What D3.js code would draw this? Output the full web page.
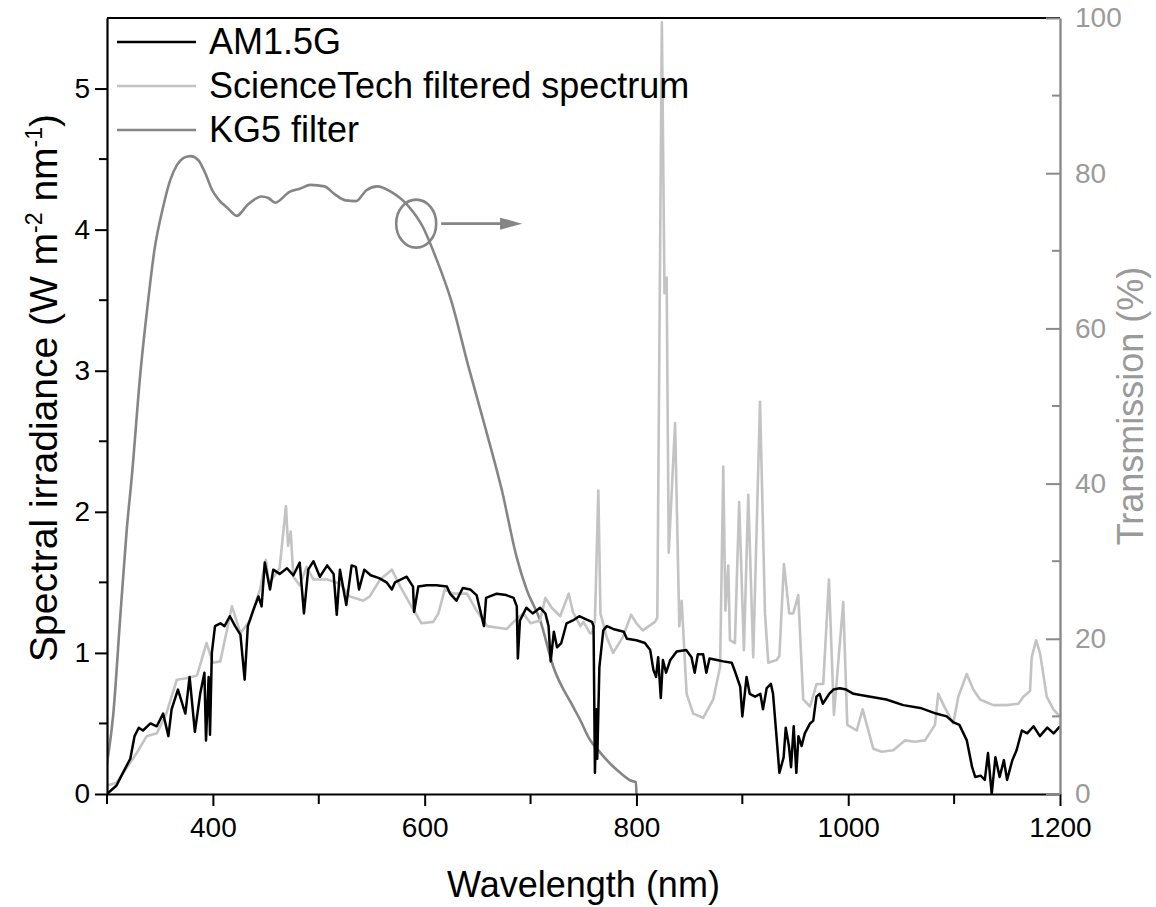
<!DOCTYPE html>
<html><head><meta charset="utf-8">
<script src="https://cdn.jsdelivr.net/npm/d3@7"></script>
<style>body{margin:0;background:#fff} svg{display:block} text{font-family:"Liberation Sans",Arial,sans-serif}</style>
</head><body><svg id="c" width="1156" height="907"></svg>
<script>
// ---- data ----
const am15Wavelength = [300,309,315,322,326,330,334,341,347,353,358,361,367,374,378,383,388,392,393.5,396,397.3,399,402,407,411,416,421,426,430,433,438,443,446,449,454,457,463,470,476,482,486,490,495,501,508,514,517,520,526,531,535,538,543,549,557,564,569,572,583,589,590,594,602,611,621,624,630,636,643,649,656,658,668,677,684,687,688,690,696,702,709,714,717,719,722,725,729,734,740,746,752,758,759.5,760.8,762,763,765,768.7,772,778,788,791,800,808,813,816,818.5,820.5,823,825,828,832,838,847,852,855,858,863,866,869,876,882,890,893,898,900,904,907,912,917,919.5,923,927,929,933,935,939,941,944,946,948.5,951,953,956,959,964,967,970,973,976,982,986,992,998,1005,1021,1036,1052,1068,1083,1093,1099,1105,1112,1117,1120,1125,1129,1132,1135.5,1139,1143,1147,1150,1155,1159,1164,1169,1175,1181,1188,1194,1200];
const am15Irradiance = [0,0.06,0.15,0.25,0.41,0.47,0.45,0.50,0.48,0.57,0.41,0.60,0.74,0.57,0.83,0.44,0.71,0.86,0.38,0.83,0.42,1.00,1.19,1.21,1.19,1.26,1.19,1.13,0.81,1.19,1.30,1.40,1.33,1.64,1.45,1.59,1.56,1.60,1.55,1.64,1.28,1.59,1.65,1.54,1.62,1.56,1.27,1.59,1.34,1.62,1.61,1.45,1.59,1.55,1.53,1.50,1.45,1.50,1.54,1.47,1.29,1.47,1.48,1.48,1.47,1.42,1.37,1.46,1.45,1.41,1.19,1.39,1.42,1.41,1.39,1.33,0.96,1.23,1.32,1.28,1.32,1.28,1.19,0.94,1.15,1.04,1.07,1.21,1.23,1.26,1.24,1.22,1.19,0.15,0.60,0.25,0.90,1.16,1.19,1.17,1.15,1.10,1.09,1.07,1.02,0.88,0.83,0.97,0.68,0.95,0.86,0.95,1.01,1.02,0.97,0.86,0.99,0.99,0.86,0.96,0.95,0.94,0.93,0.87,0.76,0.55,0.83,0.71,0.69,0.71,0.60,0.75,0.78,0.71,0.34,0.15,0.26,0.47,0.34,0.19,0.48,0.15,0.41,0.34,0.43,0.50,0.52,0.69,0.71,0.64,0.71,0.74,0.75,0.74,0.71,0.69,0.67,0.63,0.61,0.57,0.55,0.51,0.49,0.38,0.19,0.12,0.13,0.10,0.29,0.00,0.26,0.12,0.24,0.10,0.24,0.31,0.45,0.43,0.48,0.41,0.47,0.43,0.48];

const stWavelength = [300,309,319,328,337.5,347,356,366,375,385,394,400,407,418,426,435,444.5,450,453,463,469,471,473.5,476,482,488.5,495,508,520,529.5,542,548,558,569,577,586,597,608,613,619,627,640,649,659,677.5,684,693,700,709,714,720,728,736,740,747,750,756,758,760.8,764,766,772,778,787,795,800,806,817.5,819.7,824,826.5,828.5,830.5,836.5,840.5,842.7,847.4,853.6,863,872.5,879,882,884,886.7,888.3,893,897,901.5,905.6,910.3,916.7,921.4,924.5,932.4,935,939.3,944.3,948.1,952.8,957.5,963.9,970.2,976.4,981.8,986.5,995.3,999.1,1008,1013.6,1023.7,1031.6,1042.5,1053.6,1063,1072.5,1081.9,1085,1091.4,1099.2,1104,1111.9,1118.1,1124.5,1137,1149.7,1160.7,1165.4,1171.7,1173.3,1177.4,1181.1,1187.5,1193.7,1200];
const stIrradiance = [0.06,0.08,0.19,0.29,0.41,0.43,0.57,0.81,0.82,0.84,1.07,0.93,0.94,1.33,1.14,1.23,1.45,1.66,1.49,1.60,2.04,1.76,1.86,1.54,1.48,1.61,1.52,1.52,1.49,1.40,1.37,1.40,1.52,1.59,1.47,1.35,1.21,1.22,1.28,1.45,1.42,1.42,1.30,1.19,1.17,1.22,1.28,1.21,1.23,1.39,1.32,1.26,1.42,1.29,1.19,1.22,1.14,1.14,1.23,2.15,1.28,1.11,1.00,1.11,1.27,1.21,1.16,1.22,1.25,5.47,3.55,3.66,1.71,2.63,1.19,1.37,0.71,0.57,0.54,0.67,0.90,2.32,1.30,1.62,1.09,1.07,2.07,1.02,2.12,0.97,2.78,1.28,0.93,0.95,0.98,1.63,1.28,1.28,1.41,0.67,0.62,0.78,0.78,1.52,0.56,1.36,0.49,0.45,0.60,0.32,0.30,0.31,0.38,0.37,0.38,0.49,0.71,0.61,0.50,0.69,0.85,0.74,0.67,0.63,0.63,0.64,0.69,0.73,0.97,1.09,1.00,0.69,0.60,0.55];

const kg5Wavelength = [300,306,312.3,318.6,323.5,331.5,338.2,344.8,353.1,359.7,366.3,372.9,378.9,386.1,392.8,399.4,406,414,422.6,432.6,445.8,452.4,459,472.3,482,492.2,505.5,515,525.3,535.2,545,555.2,568.4,585,598.2,611.5,624.8,641.3,657.9,672.8,686.9,696.4,709,721.5,740.4,747,756,766,776,785,795,799.5,800];
const kg5Transmission = [4,10.4,22.4,34,41,54.2,62.8,70.1,75.7,79.1,81.1,82.0,82.2,81.7,80.0,77.8,76.5,75.5,74.5,75.9,77.0,76.8,76.2,77.6,78.0,78.5,78.3,77.3,76.5,76.4,77.8,78.3,77.6,75.7,73.1,68.8,63.7,55.1,46.9,39.2,30.5,26.3,22.4,16.4,11.2,9.5,7.0,5.3,3.8,2.7,1.7,1.5,0];

const xTicksMajor = [400,600,800,1000,1200];
const xTicksMinor = [300,500,700,900,1100];
const yLeftMajor = [0,1,2,3,4,5];
const yLeftMinor = [0.5,1.5,2.5,3.5,4.5];
const yRightMajor = [0,20,40,60,80,100];
const yRightMinor = [10,30,50,70,90];
const seriesNames = ["AM1.5G","ScienceTech filtered spectrum","KG5 filter"];
const annotation = {wavelength: 592, transmission: 73.5, arrowTo: 692};

// ---- layout ----
const L = 107, R = 1060, T = 18, B = 794;
const svg = d3.select("#c");
const x = d3.scaleLinear().domain([300,1200]).range([L,R]);
const yL = d3.scaleLinear().domain([0,5.5]).range([B,T]);
const yR = d3.scaleLinear().domain([0,100]).range([B,T]);
const fmt = d3.format("d");

const black = "#000", stCol = "#c3c3c3", kgCol = "#858585", rightCol = "#8a8a8a", rightText = "#9a9a9a";

svg.append("defs").append("clipPath").attr("id","pc").append("rect")
  .attr("x",L).attr("y",T-4).attr("width",R-L).attr("height",B-T+4);

const g = svg.append("g").attr("clip-path","url(#pc)");
const am = am15Wavelength.map((w,i)=>[w,am15Irradiance[i]]);
const st = stWavelength.map((w,i)=>[w,stIrradiance[i]]);
const kg = kg5Wavelength.map((w,i)=>[w,kg5Transmission[i]]);

g.append("path").datum(kg).attr("fill","none").attr("stroke",kgCol).attr("stroke-width",2.6)
  .attr("stroke-linejoin","round").attr("d",d3.line().x(d=>x(d[0])).y(d=>yR(d[1])).curve(d3.curveMonotoneX));
g.append("path").datum(st).attr("fill","none").attr("stroke",stCol).attr("stroke-width",2.6)
  .attr("stroke-linejoin","round").attr("d",d3.line().x(d=>x(d[0])).y(d=>yL(d[1])));
g.append("path").datum(am).attr("fill","none").attr("stroke",black).attr("stroke-width",2.5)
  .attr("stroke-linejoin","round").attr("d",d3.line().x(d=>x(d[0])).y(d=>yL(d[1])));

// annotation circle + arrow
const ax = x(annotation.wavelength), ay = yR(annotation.transmission);
svg.append("ellipse").attr("cx",ax).attr("cy",ay).attr("rx",20).attr("ry",24)
  .attr("fill","none").attr("stroke",kgCol).attr("stroke-width",2.6);
const ax2 = x(annotation.arrowTo);
svg.append("line").attr("x1",ax+25).attr("x2",ax2-18).attr("y1",ay).attr("y2",ay)
  .attr("stroke",kgCol).attr("stroke-width",2.6);
svg.append("path").attr("d",`M${ax2-22},${ay-6}L${ax2},${ay}L${ax2-22},${ay+6}Z`).attr("fill",kgCol);

// frame
svg.append("line").attr("x1",L).attr("x2",R).attr("y1",T).attr("y2",T).attr("stroke","#000").attr("stroke-width",2);

// bottom axis
const bx = svg.append("g").attr("transform",`translate(0,${B})`);
bx.call(d3.axisBottom(x).tickValues(xTicksMajor).tickFormat(fmt).tickSize(12).tickSizeOuter(0).tickPadding(11));
bx.call(g2=>g2.selectAll(".minor").data(xTicksMinor).enter().append("line").attr("class","minor")
  .attr("x1",d=>x(d)).attr("x2",d=>x(d)).attr("y1",0).attr("y2",10).attr("stroke","#000").attr("stroke-width",2));
bx.select(".domain").attr("stroke-width",2.2);
bx.selectAll(".tick line").attr("stroke-width",2);
bx.selectAll("text").attr("font-size",28).attr("fill","#000");

// left axis
const lx = svg.append("g").attr("transform",`translate(${L},0)`);
lx.call(d3.axisLeft(yL).tickValues(yLeftMajor).tickFormat(fmt).tickSize(12).tickSizeOuter(0).tickPadding(5));
lx.call(g2=>g2.selectAll(".minor").data(yLeftMinor).enter().append("line").attr("class","minor")
  .attr("y1",d=>yL(d)).attr("y2",d=>yL(d)).attr("x1",0).attr("x2",-8).attr("stroke","#000").attr("stroke-width",2));
lx.select(".domain").attr("stroke-width",2.2);
lx.selectAll(".tick line").attr("stroke-width",2);
lx.selectAll("text").attr("font-size",28).attr("fill","#000");

// right axis (grey, inward ticks)
const rx = svg.append("g").attr("transform",`translate(${R},0)`);
rx.call(d3.axisRight(yR).tickValues(yRightMajor).tickFormat(fmt).tickSizeInner(-14).tickSizeOuter(0).tickPadding(15));
rx.call(g2=>g2.selectAll(".minor").data(yRightMinor).enter().append("line").attr("class","minor")
  .attr("y1",d=>yR(d)).attr("y2",d=>yR(d)).attr("x1",0).attr("x2",-8).attr("stroke",rightCol).attr("stroke-width",2));
rx.select(".domain").attr("stroke",rightCol).attr("stroke-width",2.4);
rx.selectAll(".tick line").attr("stroke",rightCol).attr("stroke-width",2);
rx.selectAll("text").attr("font-size",28).attr("fill",rightText);

// axis titles
svg.append("text").attr("x",(L+R)/2).attr("y",897).attr("text-anchor","middle").attr("font-size",36).text("Wavelength (nm)");
const yt = svg.append("text").attr("transform",`translate(57,${(T+B)/2-18}) rotate(-90)`).attr("text-anchor","middle").attr("font-size",39);
yt.append("tspan").text("Spectral irradiance (W m");
yt.append("tspan").attr("font-size",23).attr("dy",-15).text("-2");
yt.append("tspan").attr("dy",15).text(" nm");
yt.append("tspan").attr("font-size",23).attr("dy",-15).text("-1");
yt.append("tspan").attr("dy",15).text(")");
svg.append("text").attr("transform",`translate(1143,${(T+B)/2}) rotate(-90)`).attr("text-anchor","middle")
  .attr("font-size",36).attr("fill",rightText).text("Transmission (%)");

// legend
const legCols = [black, stCol, kgCol];
const lg = svg.append("g");
seriesNames.forEach((n,i)=>{
  const yy = 42 + i*44;
  lg.append("line").attr("x1",117).attr("x2",196).attr("y1",yy).attr("y2",yy).attr("stroke",legCols[i]).attr("stroke-width",2.6);
  lg.append("text").attr("x",209).attr("y",yy+12).attr("font-size",36).attr("fill","#000").text(n);
});
</script></body></html>
